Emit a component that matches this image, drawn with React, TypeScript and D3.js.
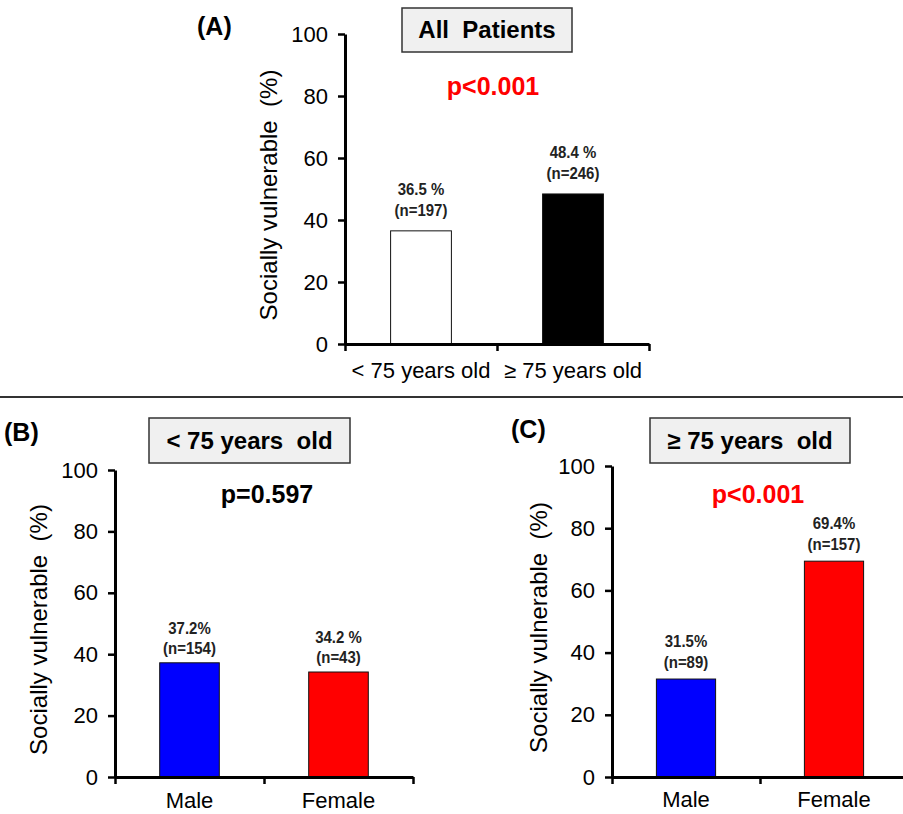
import React, { useEffect, useRef } from 'react';
import * as d3 from 'd3';

const groupsA = ['< 75 years old', '≥ 75 years old'];
const valuesA = [36.5, 48.4];
const pctA = ['36.5 %', '48.4 %'];
const nA = ['(n=197)', '(n=246)'];

const sexes = ['Male', 'Female'];
const valuesB = [37.2, 34.2];
const pctB = ['37.2%', '34.2 %'];
const nB = ['(n=154)', '(n=43)'];

const valuesC = [31.5, 69.4];
const pctC = ['31.5%', '69.4%'];
const nC = ['(n=89)', '(n=157)'];

const yTicks = [0, 20, 40, 60, 80, 100];

const panels = [
  {
    tag: '(A)', tagX: 197, tagY: 35,
    title: 'All  Patients', box: [402, 8, 170, 44],
    p: 'p<0.001', pColor: '#ff0000', pX: 493, pY: 95,
    cats: groupsA, values: valuesA, pct: pctA, n: nA,
    fills: ['#ffffff', '#000000'],
    x0: 345, x1: 649, yTop: 34, yBottom: 344, labelX: 268, labelOff: [36, 15], catY: 378,
  },
  {
    tag: '(B)', tagX: 4, tagY: 441,
    title: '< 75 years  old', box: [149, 418, 201, 45],
    p: 'p=0.597', pColor: '#000000', pX: 267, pY: 503,
    cats: sexes, values: valuesB, pct: pctB, n: nB,
    fills: ['#0000ff', '#ff0000'],
    x0: 115, x1: 413, yTop: 470, yBottom: 777, labelX: 38, labelOff: [29, 9], catY: 808,
  },
  {
    tag: '(C)', tagX: 511, tagY: 438,
    title: '≥ 75 years  old', box: [650, 418, 200, 45],
    p: 'p<0.001', pColor: '#ff0000', pX: 758, pY: 503,
    cats: sexes, values: valuesC, pct: pctC, n: nC,
    fills: ['#0000ff', '#ff0000'],
    x0: 612, x1: 908, yTop: 466, yBottom: 777, labelX: 538, labelOff: [32, 11], catY: 807,
  },
];

const FONT = 'Arial, "Liberation Sans", sans-serif';

export default function App() {
  const ref = useRef<SVGSVGElement>(null);

  useEffect(() => {
    const svg = d3.select(ref.current);
    svg.selectAll('*').remove();
    svg.append('rect').attr('width', 903).attr('height', 814).attr('fill', '#fff');

    // separator between top and bottom rows
    svg.append('line')
      .attr('x1', 0).attr('x2', 903).attr('y1', 397).attr('y2', 397)
      .attr('stroke', '#333').attr('stroke-width', 2);

    panels.forEach((pn) => {
      const g = svg.append('g');

      const x = d3.scaleBand().domain(pn.cats).range([pn.x0, pn.x1]).paddingInner(0.6).paddingOuter(0.3);
      const y = d3.scaleLinear().domain([0, 100]).range([pn.yBottom, pn.yTop]);
      const xEdge = d3.scaleLinear().domain([0, 2]).range([pn.x0, pn.x1]);

      // bars
      pn.cats.forEach((c, i) => {
        g.append('rect')
          .attr('x', x(c)!)
          .attr('y', y(pn.values[i]))
          .attr('width', x.bandwidth())
          .attr('height', y(0) - y(pn.values[i]))
          .attr('fill', pn.fills[i])
          .attr('stroke', '#111')
          .attr('stroke-width', 1);

        const cx = x(c)! + x.bandwidth() / 2;
        // narrow bold value labels (horizontally squeezed)
        [pn.pct[i], pn.n[i]].forEach((t, k) => {
          g.append('text')
            .attr('transform', `translate(${cx},${y(pn.values[i]) - pn.labelOff[k]}) scale(0.88,1)`)
            .attr('text-anchor', 'middle')
            .style('font-family', FONT).style('font-weight', 'bold').style('font-size', '17px')
            .attr('fill', '#222')
            .text(t);
        });

        g.append('text')
          .attr('x', cx).attr('y', pn.catY)
          .attr('text-anchor', 'middle')
          .style('font-family', FONT).style('font-size', '22px')
          .attr('fill', '#000')
          .text(c);
      });

      // y axis
      const ya = g.append('g')
        .attr('transform', `translate(${pn.x0},0)`)
        .call(d3.axisLeft(y).tickValues(yTicks).tickSize(7).tickPadding(10).tickSizeOuter(0));
      ya.select('.domain').attr('stroke', '#000').attr('stroke-width', 3);
      ya.selectAll('.tick line').attr('stroke', '#000').attr('stroke-width', 2.5);
      ya.selectAll('.tick text')
        .style('font-family', FONT).style('font-size', '22px').attr('fill', '#000');

      // x axis
      const xa = g.append('g')
        .attr('transform', `translate(0,${pn.yBottom})`)
        .call(d3.axisBottom(xEdge).tickValues([0, 1, 2]).tickSize(7).tickSizeOuter(0).tickFormat(() => ''));
      xa.select('.domain').attr('stroke', '#000').attr('stroke-width', 3);
      xa.selectAll('.tick line').attr('stroke', '#000').attr('stroke-width', 2.5);

      // y label
      g.append('text')
        .attr('transform', `translate(${pn.labelX},${(pn.yTop + pn.yBottom) / 2 + 6}) rotate(-90)`)
        .attr('text-anchor', 'middle')
        .attr('dominant-baseline', 'central')
        .style('font-family', FONT).style('font-size', '24px')
        .style('white-space', 'pre')
        .attr('fill', '#000')
        .text('Socially vulnerable  (%)');

      // title box
      const [bx, by, bw, bh] = pn.box;
      g.append('rect')
        .attr('x', bx).attr('y', by).attr('width', bw).attr('height', bh)
        .attr('fill', '#f0f0f0').attr('stroke', '#333').attr('stroke-width', 1.5);
      g.append('text')
        .attr('x', bx + bw / 2).attr('y', by + bh / 2 + 8)
        .attr('text-anchor', 'middle')
        .style('font-family', FONT).style('font-weight', 'bold').style('font-size', '24px')
        .style('white-space', 'pre')
        .attr('fill', '#000')
        .text(pn.title);

      // panel tag
      g.append('text')
        .attr('x', pn.tagX).attr('y', pn.tagY)
        .style('font-family', FONT).style('font-weight', 'bold').style('font-size', '25px')
        .attr('fill', '#000')
        .text(pn.tag);

      // p value
      g.append('text')
        .attr('x', pn.pX).attr('y', pn.pY)
        .attr('text-anchor', 'middle')
        .style('font-family', FONT).style('font-weight', 'bold').style('font-size', '25px')
        .attr('fill', pn.pColor)
        .text(pn.p);
    });
  }, []);

  return (
    <svg ref={ref} width={903} height={814}
      style={{ position: 'absolute', left: 0, top: 0, display: 'block' }} />
  );
}
